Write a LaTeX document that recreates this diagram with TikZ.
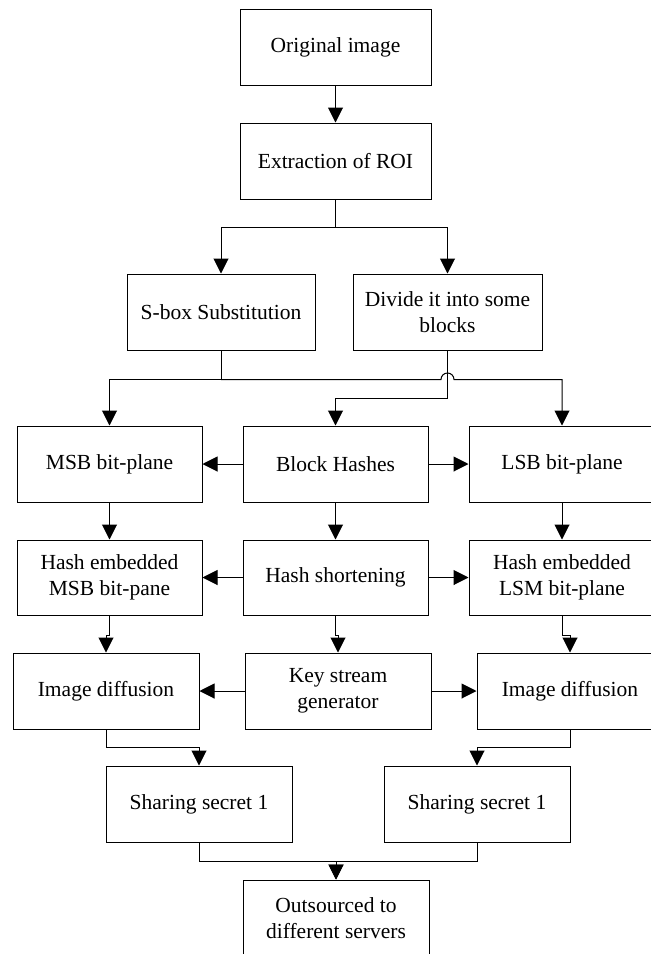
\documentclass[tikz,border=0pt]{standalone}
\usepackage{fontspec}
\setmainfont{Liberation Serif}
\usetikzlibrary{arrows.meta,calc}
\begin{document}
\begin{tikzpicture}[x=1pt,y=-1pt,
 box/.style={draw,line width=1pt,minimum width=186pt,minimum height=76pt,inner sep=0pt,align=center,font=\fontsize{21.5}{25.5}\selectfont},
 conn/.style={line width=1pt},
 arr/.style={conn,-{Triangle[length=15pt,width=15pt]}}]
\useasboundingbox (0,0) rectangle (651,954);
\clip (0,0) rectangle (651,954);
\fill[white] (0,0) rectangle (651,954);
\node[box,minimum width=191pt] (orig) at (335.5,47) {Original image};
\node[box,minimum width=191pt] (roi) at (335.5,161) {Extraction of ROI};
\node[box,minimum width=188pt] (sbox) at (221,312) {S-box Substitution};
\node[box,minimum width=189pt] (divide) at (447.5,312) {Divide it into some\\blocks};
\node[box,minimum width=185pt] (msb) at (109.5,464) {MSB bit-plane};
\node[box,minimum width=185pt] (bh) at (335.5,464) {Block Hashes};
\node[box] (lsb) at (562,464) {LSB bit-plane};
\node[box,minimum width=185pt,minimum height=75pt] (hemsb) at (109.5,577.5) {Hash embedded\\MSB bit-pane};
\node[box,minimum width=185pt,minimum height=75pt] (hs) at (335.5,577.5) {Hash shortening};
\node[box,minimum height=75pt] (helsb) at (562,577.5) {Hash embedded\\LSM bit-plane};
\node[box] (id1) at (106,691) {Image diffusion};
\node[box] (ks) at (338,691) {Key stream\\generator};
\node[box] (id2) at (570,691) {Image diffusion};
\node[box] (ss1) at (199,804) {Sharing secret 1};
\node[box] (ss2) at (477,804) {Sharing secret 1};
\node[box] (out) at (336,918) {Outsourced to\\different servers};
% connectors
\draw[arr] (orig) -- (roi);
\draw[conn] (roi.south) -- ++(0,28) coordinate (r1);
\draw[arr] (r1) -| (sbox.north);
\draw[arr] (r1) -| (divide.north);
\draw[conn] (sbox.south) -- ++(0,29) coordinate (s1);
\draw[arr] (s1) -| (msb.north);
\coordinate (cross) at (divide.south |- s1);
\draw[arr] (s1) -- ([xshift=-6.5pt]cross) arc[start angle=180,end angle=0,radius=6.5pt] -| (lsb.north);
\draw[arr] (divide.south) -- ++(0,48) -| (bh.north);
\draw[arr] (bh) -- (msb);
\draw[arr] (bh) -- (lsb);
\draw[arr] (msb) -- (hemsb);
\draw[arr] (bh) -- (hs);
\draw[arr] (lsb) -- (helsb);
\draw[arr] (hs) -- (hemsb);
\draw[arr] (hs) -- (helsb);
\draw[arr] (hemsb.south) -- ++(0,20) -| (id1.north);
\draw[arr] (hs.south) -- ++(0,20) -| (ks.north);
\draw[arr] (helsb.south) -- ++(0,20) -| (id2.north);
\draw[arr] (ks) -- (id1);
\draw[arr] (ks) -- (id2);
\draw[arr] (id1.south) -- ++(0,18) -| (ss1.north);
\draw[arr] (id2.south) -- ++(0,18) -| (ss2.north);
\draw[arr] (ss1.south) -- ++(0,19) -| (out.north);
\draw[arr] (ss2.south) -- ++(0,19) -| (out.north);
\end{tikzpicture}
\end{document}
